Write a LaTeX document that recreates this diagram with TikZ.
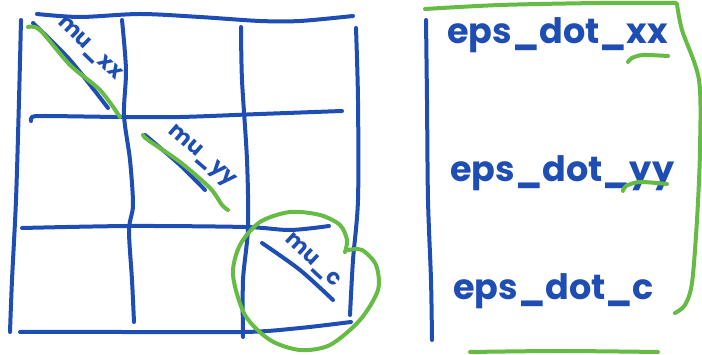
\documentclass[tikz,border=0pt]{standalone}
\usepackage{fontspec}
\setmainfont{Poppins}
\definecolor{pblue}{HTML}{1E4DB3}
\definecolor{pgreen}{HTML}{66BB44}
\begin{document}
\begin{tikzpicture}[x=1pt,y=-1pt, line cap=round, line join=round,
 bl/.style={draw=pblue, line width=4pt},
 gr/.style={draw=pgreen, line width=4pt},
 lbl/.style={text=pblue, font=\bfseries\fontsize{35}{40}\selectfont, inner sep=0pt, anchor=base west},
 mu/.style={text=pblue, font=\bfseries\fontsize{22}{24}\selectfont, inner sep=0pt}]
\useasboundingbox (0,0) rectangle (702,355);
% grid
\draw[bl] plot[smooth] coordinates {(37,14) (80,17) (140,14) (200,17) (260,21) (300,21) (353,16)};
\draw[bl] plot[smooth] coordinates {(21,20) (19,100) (16,200) (12,280) (10,332)};
\draw[bl] plot[smooth] coordinates {(122,20) (126,70) (124,115) (130,160) (133,205) (129,230) (132,280) (134,322)};
\draw[bl] plot[smooth] coordinates {(241,27) (242,80) (247,160) (248,228) (243,280) (243,337)};
\draw[bl] plot[smooth] coordinates {(356,28) (358,100) (358,200) (353,260) (350,315)};
\draw[bl] plot[smooth] coordinates {(31,121) (32,117) (45,116) (120,117) (180,117) (260,114) (342,111)};
\draw[bl] plot[smooth] coordinates {(22,228) (130,226) (245,227) (290,230) (329,226)};
\draw[bl] plot[smooth] coordinates {(20,332) (120,332) (245,332) (300,328) (351,322)};
% diagonals
\draw[bl] plot[smooth] coordinates {(33,23) (70,60) (108,108)};
\draw[bl] plot[smooth] coordinates {(145,135) (180,165) (205,190)};
\draw[bl] plot[smooth] coordinates {(262,243) (300,270) (333,300)};
\node[mu, rotate=-44] (muxx) at (89,49) {mu\_xx};
\node[mu, rotate=-41] (muyy) at (201,157) {mu\_yy};
\node[mu, rotate=-43] (muc) at (312,261) {mu\_c};
% green
\draw[gr] plot[smooth] coordinates {(28,27) (40,30) (70,65) (100,90) (120,117)};
\draw[gr] plot[smooth] coordinates {(143,135) (148,140) (180,162) (210,188) (222,205) (228,210)};
\draw[gr] plot[smooth] coordinates {(345,252) (347,240) (340,225) (320,215) (290,212) (260,222) (240,245) (233,275) (245,315) (270,340) (300,350) (330,345) (360,320) (378,290) (376,265) (362,250) (348,250)};
% right panel
\draw[bl] plot[smooth] coordinates {(426,20) (427,100) (428,200) (431,280) (432,340)};
\draw[gr] plot[smooth] coordinates {(425,9) (500,5) (600,3) (676,3)};
\draw[gr] plot[smooth] coordinates {(677,4) (682,30) (699,80) (700,150) (697,220) (692,283) (685,305) (675,313)};
\draw[gr] plot[smooth] coordinates {(470,352) (560,351) (658,352)};
\node[lbl] (exx) at (447,44) {eps\_dot\_xx};
\node[lbl] (eyy) at (450,182) {eps\_dot\_yy};
\node[lbl] (ec) at (453,300) {eps\_dot\_c};
\draw[gr] plot[smooth] coordinates {(628,62) (632,58) (643,55) (668,56)};
\draw[gr] plot[smooth] coordinates {(623,191) (626,186) (640,182) (667,184)};
\end{tikzpicture}
\end{document}
